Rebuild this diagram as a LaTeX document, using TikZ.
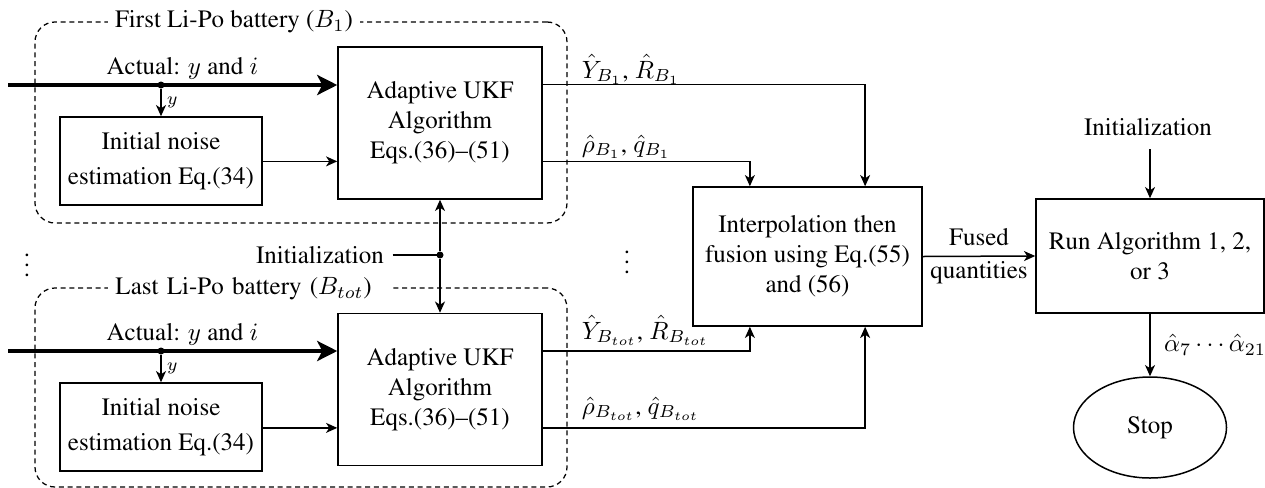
\documentclass[tikz,border=0pt]{standalone}
\usepackage[T1]{fontenc}
\usepackage{times}
\usetikzlibrary{arrows.meta,shapes.geometric,calc}
\begin{document}
\begin{tikzpicture}[x=0.4pt,y=-0.4pt,
 box/.style={draw, line width=0.6pt, align=center, inner sep=0pt},
 grp/.style={draw, line width=0.5pt, dash pattern=on 2pt off 1.5pt, rounded corners=8pt, inner sep=0pt},
 grplbl/.style={fill=white, inner xsep=3pt, inner ysep=1pt},
 conn/.style={line width=0.6pt, -{Stealth[length=4.5pt,width=4pt,inset=1.3pt]}},
 plain/.style={line width=0.6pt},
 thickarr/.style={line width=1.6pt, -{Stealth[length=8pt,width=8pt,inset=2pt]}},
 dot/.style={circle, fill, inner sep=0pt, minimum size=2.8pt},
 font=\fontsize{10}{12}\selectfont
]
\useasboundingbox (0,0) rectangle (1265,487);

% group frames
\node[grp, minimum width=212.8pt, minimum height=80.4pt] (g1) at (301,122.5) {};
\node[grplbl] (g1l) at (234,22) {First Li-Po battery ($B_1$)};
\node[grp, minimum width=212.8pt, minimum height=79.6pt] (g2) at (301,387.5) {};
\node[grplbl, text width=108pt, align=left] (g2l) at (250.5,289) {Last Li-Po battery ($B_{tot}$)};

% boxes
\node[box, minimum width=80.8pt, minimum height=35.2pt, font=\fontsize{10}{14}\selectfont] (init1) at (161,161) {Initial noise\\estimation Eq.(34)};
\node[box, minimum width=81.6pt, minimum height=60.8pt] (ukf1) at (440,123) {Adaptive UKF\\Algorithm\\Eqs.(36)--(51)};
\node[box, minimum width=80.8pt, minimum height=35.2pt, font=\fontsize{10}{14}\selectfont] (init2) at (161,427) {Initial noise\\estimation Eq.(34)};
\node[box, minimum width=81.6pt, minimum height=60.8pt] (ukf2) at (440,389.5) {Adaptive UKF\\Algorithm\\Eqs.(36)--(51)};
\node[box, minimum width=91.6pt, minimum height=55.6pt] (fus) at (807.5,256.5) {Interpolation then\\fusion using Eq.(55)\\and (56)};
\node[box, minimum width=91.2pt, minimum height=45.6pt] (run) at (1150,256) {Run Algorithm 1, 2,\\or 3};
\node[ellipse, draw, line width=0.6pt, minimum width=61.2pt, minimum height=40.4pt, inner sep=0pt] (stop) at (1150,427.5) {Stop};

% free texts
\node (initR) at (1148,127) {Initialization};
\node (initM) at (320,255) {Initialization};
\node (vd1) at (27,258) {$\vdots$};
\node (vd2) at (627,255) {$\vdots$};

% coordinates
\coordinate (s1) at (8,85);
\coordinate (s2) at (8,351);
\coordinate (d1) at (161,85);
\coordinate (d2) at (161,351);
\coordinate (mdot) at (440,255);
\coordinate (u1a) at ($(ukf1.north east)!0.25!(ukf1.south east)$);
\coordinate (u1c) at ($(ukf1.north east)!0.75!(ukf1.south east)$);
\coordinate (u2a) at ($(ukf2.north east)!0.25!(ukf2.south east)$);
\coordinate (u2c) at ($(ukf2.north east)!0.75!(ukf2.south east)$);
\coordinate (w1) at ($(ukf1.north west)!0.75!(ukf1.south west)$);
\coordinate (w2) at ($(ukf2.north west)!0.75!(ukf2.south west)$);
\coordinate (fnA) at ($(fus.north west)!0.25!(fus.north east)$);
\coordinate (fnB) at ($(fus.north west)!0.75!(fus.north east)$);
\coordinate (fsA) at ($(fus.south west)!0.25!(fus.south east)$);
\coordinate (fsB) at ($(fus.south west)!0.75!(fus.south east)$);

% battery 1
\draw[thickarr] (s1) -- (s1 -| ukf1.west) node[pos=0.53, above, inner sep=1.5pt] (a1) {Actual: $y$ and $i$};
\node[dot] (dot1) at (d1) {};
\draw[conn] (dot1) -- (init1.north) node[midway, right, inner sep=2pt, font=\scriptsize] (y1) {$y$};
\draw[conn] (init1.east |- w1) -- (w1);
\draw[conn] (u1a) -| (fnB);
\draw[conn] (u1c) -| (fnA);
\node[anchor=base west] (l1a) at (573,78) {$\hat{Y}_{B_1}$, $\hat{R}_{B_1}$};
\node[anchor=base west] (l1c) at (573,152) {$\hat{\rho}_{B_1}$, $\hat{q}_{B_1}$};

% battery tot
\draw[thickarr] (s2) -- (s2 -| ukf2.west) node[pos=0.53, above, inner sep=1.5pt] (a2) {Actual: $y$ and $i$};
\node[dot] (dot2) at (d2) {};
\draw[conn] (dot2) -- (init2.north) node[midway, right, inner sep=2pt, font=\scriptsize] (y2) {$y$};
\draw[conn] (init2.east |- w2) -- (w2);
\draw[conn] (u2a) -| (fsA);
\draw[conn] (u2c) -| (fsB);
\node[anchor=base west] (l2a) at (573,339) {$\hat{Y}_{B_{tot}}$, $\hat{R}_{B_{tot}}$};
\node[anchor=base west] (l2c) at (573,414) {$\hat{\rho}_{B_{tot}}$, $\hat{q}_{B_{tot}}$};

% middle initialization
\draw[plain] (initM.east) -- (mdot);
\node[dot] (mdotn) at (mdot) {};
\draw[conn] (mdotn) -- (ukf1.south);
\draw[conn] (mdotn) -- (ukf2.north);

% right part
\draw[conn] (fus.east) -- (run.west) node[midway, align=center, font=\fontsize{10}{13}\selectfont] (fq) {Fused\\quantities};
\draw[conn] ([yshift=-2pt]initR.south -| run.north) -- (run.north);
\draw[conn] (run.south) -- (stop.north) node[midway, right, xshift=2pt] (al) {$\hat{\alpha}_7\cdots\hat{\alpha}_{21}$};
\end{tikzpicture}
\end{document}
